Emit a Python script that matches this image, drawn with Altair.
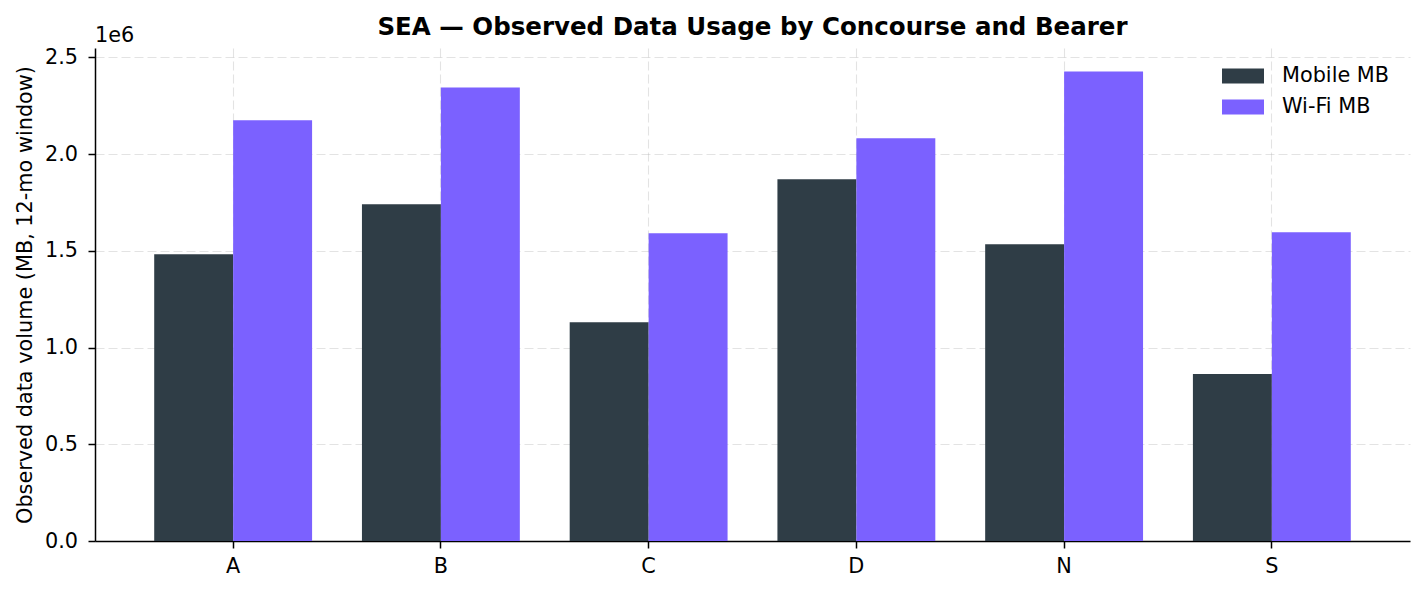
import altair as alt
import pandas as pd

concourses = ["A", "B", "C", "D", "N", "S"]
mobile_mb = [1482000, 1741000, 1131000, 1870000, 1534000, 863000]
wifi_mb = [2175000, 2345000, 1591000, 2082000, 2428000, 1596000]
series = ["Mobile MB", "Wi-Fi MB"]
colors = ["#2F3D46", "#7B61FF"]
y_ticks = [0, 500000, 1000000, 1500000, 2000000, 2500000]
offset_label = "1e6"
title_text = "SEA — Observed Data Usage by Concourse and Bearer"
y_title = "Observed data volume (MB, 12-mo window)"

rows = []
for c, m, w in zip(concourses, mobile_mb, wifi_mb):
    rows.append({"concourse": c, "series": series[0], "value": m})
    rows.append({"concourse": c, "series": series[1], "value": w})
df = pd.DataFrame(rows)

FONT = "DejaVu Sans"
FS = 20.8
W, H = 1315, 493

bars = alt.Chart(df).mark_bar().encode(
    x=alt.X(
        "concourse:N",
        sort=concourses,
        scale=alt.Scale(paddingInner=0.24, paddingOuter=0.285),
        axis=alt.Axis(title=None, labelAngle=0, bandPosition=0.5, grid=True,
                      labelPadding=8.5),
    ),
    xOffset=alt.XOffset(
        "series:N", sort=series, scale=alt.Scale(paddingInner=0, paddingOuter=0)
    ),
    y=alt.Y(
        "value:Q",
        scale=alt.Scale(domain=[0, 2549000], nice=False, zero=True),
        axis=alt.Axis(
            values=y_ticks,
            labelExpr="format(datum.value/1000000, '.1f')",
            labelPadding=10.5,
            title=y_title,
            titleFontSize=FS,
            titleFontWeight="normal",
            titleFont=FONT,
            titleColor="black",
            titlePadding=9,
            grid=True,
        ),
    ),
    color=alt.Color(
        "series:N",
        scale=alt.Scale(domain=series, range=colors),
        legend=alt.Legend(
            title=None,
            orient="none",
            legendX=1136,
            legendY=16,
            symbolType="M-1.75,-0.625L1.75,-0.625L1.75,0.625L-1.75,0.625Z",
            symbolSize=576,
            symbolStrokeWidth=0,
            symbolOpacity=1,
            labelFontSize=FS,
            labelFont=FONT,
            labelColor="black",
            labelOffset=27,
            rowPadding=9,
            padding=0,
        ),
    ),
)

offset_text = alt.Chart(pd.DataFrame({"t": [offset_label]})).mark_text(
    align="left", baseline="alphabetic", fontSize=FS, font=FONT, color="black"
).encode(x=alt.value(0), y=alt.value(-6.5), text="t:N")

title_mark = alt.Chart(pd.DataFrame({"t": [title_text]})).mark_text(
    align="center", baseline="alphabetic", fontSize=24.5, font=FONT,
    fontWeight="bold", color="black"
).encode(x=alt.value(W / 2), y=alt.value(-13), text="t:N")

chart = (
    alt.layer(bars, offset_text, title_mark)
    .properties(
        width=W,
        height=H,
        autosize=alt.AutoSizeParams(type="none"),
        padding={"left": 87, "top": 40, "right": 7, "bottom": 40},
    )
    .configure_view(stroke=None)
    .configure_axis(
        labelFont=FONT,
        labelFontSize=FS,
        labelColor="black",
        domainColor="black",
        domainWidth=1.5,
        tickColor="black",
        tickWidth=1.5,
        tickSize=7,
        gridColor="#b0b0b0",
        gridOpacity=0.35,
        gridDash=[9, 4],
        gridWidth=1.1,
        zindex=1,
    )
)

chart.save("out.html", embed_options={"renderer": "svg", "actions": False})
